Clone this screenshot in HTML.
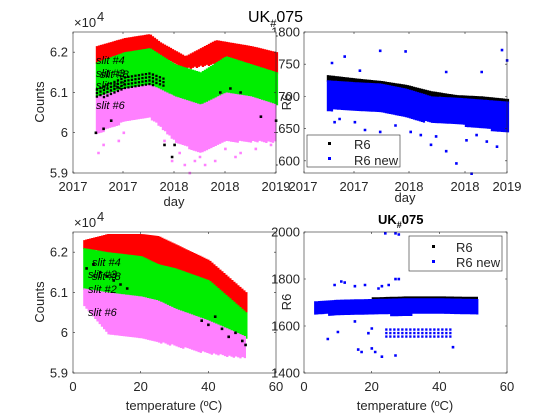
<!DOCTYPE html>
<html><head><meta charset="utf-8"><style>
body{margin:0;background:#fff;}
svg{display:block;font-family:"Liberation Sans",sans-serif;}
.tk{font-size:13px;fill:#262626;}
</style></head><body>
<svg id="s" width="560" height="420" viewBox="0 0 560 420">
<rect width="560" height="420" fill="#fff"/>
</svg>
<script>
// ---------- DATA ----------
const tlRedT=[0.45,1,1.5,1.7,2.2,2.8,3.5,4];
const tlRedHi=[6.215,6.235,6.245,6.225,6.19,6.23,6.215,6.2];
const tlGreenT=[0.45,1,1.5,2,2.5,3,3.5,4];
const tlGreenHi=[6.175,6.2,6.21,6.17,6.15,6.19,6.17,6.15];
const tlGreenLo=[6.09,6.11,6.12,6.09,6.07,6.1,6.09,6.07];
const tlPinkLo=[6.0,6.03,6.04,5.98,5.95,5.98,5.98,5.98];
const tlBlackT=[0.45,1,1.5,1.8];
const tlBlackLo=[6.085,6.11,6.12,6.115];
const tlBlackHi=[6.11,6.14,6.15,6.135];
const tlPinkOutT=[0.5,0.6,0.9,1.0,1.8,1.95,2.2,2.3,2.5,2.8,3.3,3.6,3.9,2.1,2.4,2.6,3.0,3.2];
const tlPinkOutV=[5.95,5.97,5.98,6.0,5.98,5.93,5.92,5.9,5.94,5.93,5.95,5.96,5.97,5.95,5.93,5.92,5.96,5.94];
const tlBlackOutT=[0.45,0.6,0.75,1.8,1.95,2.0,3.7,4.0,2.9,3.1,3.3];
const tlBlackOutV=[6.0,6.01,6.03,5.97,5.94,5.97,6.04,6.03,6.1,6.11,6.1];
const trT=[0.45,1,1.5,2,2.5,3,3.5,4];
const trBlueLo=[1680,1680,1678,1668,1660,1658,1652,1645];
const trBlueHi=[1725,1722,1720,1712,1700,1698,1695,1692];
const trBlackHi=[1733,1728,1724,1718,1708,1702,1700,1696];
const trOutT=[0.55,0.8,1.1,1.5,2.0,2.8,3.5,3.9,4.0,1.5,2.5,2.8,3.0,3.3,3.8,2.1,0.6,1.2,3.6,0.7,1.0,1.8,2.3,2.6,3.2,3.4];
const trOutV=[1752,1762,1740,1771,1770,1738,1738,1772,1756,1645,1625,1615,1596,1580,1622,1645,1660,1648,1630,1665,1660,1655,1640,1638,1632,1640];
const blT=[3,10,20,25,30,40,51];
const blRedHi=[6.23,6.245,6.245,6.24,6.22,6.18,6.1];
const blGreenHi=[6.21,6.2,6.19,6.17,6.16,6.13,6.05];
const blGreenLo=[6.11,6.1,6.09,6.08,6.06,6.03,5.99];
const blPinkLo=[6.07,6.0,5.99,5.98,5.97,5.95,5.94];
const blBlackT=[4,6,8,10,12,14,16,38,40,42,44,46,48,50,51];
const blBlackV=[6.16,6.17,6.15,6.14,6.13,6.12,6.11,6.03,6.02,6.04,6.01,5.99,6.0,5.98,5.97];
const brT=[3,10,20,30,40,51];
const brBlueLo=[1655,1650,1650,1652,1655,1650];
const brBlueHi=[1705,1712,1715,1718,1718,1715];
const brClusterT=[24,43];
const brClusterLo=[1560,1560];
const brClusterHi=[1590,1590];
const brOutT=[24,27,28,9,11,12,15,18,22,23,25,27,28,7,10,16,17,20,21,23,27,44,15,20,19];
const brOutV=[1995,1995,1990,1775,1790,1785,1770,1775,1760,1770,1775,1800,1800,1545,1575,1500,1490,1505,1490,1470,1475,1510,1620,1590,1570];

// ---------- HELPERS ----------
const S=document.getElementById('s'),NS='http://www.w3.org/2000/svg';
function mk(tag,at,txt){const e=document.createElementNS(NS,tag);for(const k in at)e.setAttribute(k,at[k]);if(txt!=null)e.textContent=txt;S.appendChild(e);return e;}
function interp(xs,ys,x){if(x<=xs[0])return ys[0];for(let i=1;i<xs.length;i++){if(x<=xs[i]){const f=(x-xs[i-1])/(xs[i]-xs[i-1]);return ys[i-1]+f*(ys[i]-ys[i-1]);}}return ys[ys.length-1];}
function scale(d0,d1,p0,p1){return v=>p0+(v-d0)/(d1-d0)*(p1-p0);}
function band(X,Y,ts,lo,hi,col,name,step,vstep){
  step=step||2;vstep=vstep||2.2;let d='';
  const p0=X(ts[0]),p1=X(ts[ts.length-1]);
  for(let px=p0;px<=p1;px+=step){const t=X.inv(px);const a=Y(interp(ts,hi,t)),b=Y(interp(ts,lo,t));
    for(let py=a;py<=b;py+=vstep){d+='M'+px.toFixed(1)+' '+py.toFixed(1)+'h2.3v2.3h-2.3z';}}
  const e=mk('path',{d:d,fill:col});
  
  
}
function pts(X,Y,ts,vs,col,name){let d='';for(let i=0;i<ts.length;i++){d+='M'+(X(ts[i])-1.2).toFixed(1)+' '+(Y(vs[i])-1.2).toFixed(1)+'h2.6v2.6h-2.6z';}
  const e=mk('path',{d:d,fill:col});
  
  
}
function axes(x0,y0,x1,y1,name){
  const r=mk('rect',{x:x0,y:y0,width:x1-x0,height:y1-y0,fill:'#fff'});
  
  
}
function frame(x0,y0,x1,y1,xt,yt,name){
  let d='';xt.forEach(p=>{d+='M'+p+' '+y1+'v-2M'+p+' '+y0+'v2';});yt.forEach(p=>{d+='M'+x0+' '+p+'h2M'+x1+' '+p+'h-2';});
  const t=mk('path',{d:d,stroke:'#262626','stroke-width':0.6,fill:'none'});
  
  
  const b=mk('rect',{x:x0,y:y0,width:x1-x0,height:y1-y0,fill:'none',stroke:'#262626','stroke-width':0.6});
  
  
}
function txt(x,y,s,at,name){const e=mk('text',Object.assign({x:x,y:y},at),s);
  
  return e;}
function mkX(d0,d1,p0,p1){const f=scale(d0,d1,p0,p1);f.inv=scale(p0,p1,d0,d1);return f;}

// ---------- TOP-RIGHT ----------
{const X=mkX(0,4,304,507),Y=scale(1581,1800,173,32);
 axes(304,32,507,173,'day-r6');
 band(X,Y,trT,trBlueHi,trBlackHi,'#000','r6-series');
 band(X,Y,trT,trBlueLo,trBlueHi,'#0000ff','r6-new-series');
 pts(X,Y,trOutT,trOutV,'#0000ff','r6-new-outliers');
 const yv=[1600,1650,1700,1750,1800];
 frame(304,32,507,173,[304,354,409,465,507],yv.map(Y),'day-r6');
 yv.forEach(v=>txt(300,Y(v)+4.5,v,{class:'tk','text-anchor':'end'},'y-tick-'+v));
 [['2017',303],['2017',354],['2018',409],['2018',465],['2019',507]].forEach((a,i)=>txt(a[1],191,a[0],{class:'tk','text-anchor':'middle'},'x-tick-r-'+i));
 txt(405,202,'day',{class:'tk','text-anchor':'middle','font-size':'13px'},'x-axis-title-day-r');
 txt(291,102,'R6',{class:'tk','text-anchor':'middle',transform:'rotate(-90 291 102)','font-size':'14px'},'y-axis-title-r6-top');
 const lg=mk('rect',{x:307,y:135,width:93,height:32,fill:'#fff',stroke:'#262626','stroke-width':0.6});
 
 const c1=mk('rect',{x:328,y:142,width:3,height:3,fill:'#000'});
 const c2=mk('rect',{x:328,y:157,width:3,height:3,fill:'#0000ff'});
 txt(354,149,'R6',{class:'tk'},'legend-entry-r6');
 txt(354,165,'R6 new',{class:'tk'},'legend-entry-r6-new');
}
// ---------- TOP-LEFT ----------
{const X=mkX(0,4,73,276),Y=scale(5.9,6.25,173,32);
 axes(73,32,276,173,'day-counts');
 band(X,Y,tlRedT,tlRedT.map((t)=>interp(tlGreenT,tlGreenHi,t)),tlRedHi,'#ff0000','slit-4-series');
 band(X,Y,tlGreenT,tlGreenLo,tlGreenHi,'#00ee00','slit-3-series');
 band(X,Y,tlGreenT,tlPinkLo,tlGreenLo,'#ff80ff','slit-6-series',2.2);
 band(X,Y,tlBlackT,tlBlackLo,tlBlackHi,'#000','slit-8-series',3.5,3.5);
 pts(X,Y,tlPinkOutT,tlPinkOutV,'#ff80ff','slit-6-outliers');
 pts(X,Y,tlBlackOutT,tlBlackOutV,'#000','slit-8-outliers');
 const yv=[5.9,6,6.1,6.2];
 frame(73,32,276,173,[73,123,174,225,276],yv.map(Y),'day-counts');
 yv.forEach(v=>txt(68,Y(v)+4.5,v,{class:'tk','text-anchor':'end'},'y-tick-'+v));
 [['2017',73],['2017',123],['2018',174],['2018',225],['2019',276]].forEach((a,i)=>txt(a[1],191,a[0],{class:'tk','text-anchor':'middle'},'x-tick-l-'+i));
 txt(174,206,'day',{class:'tk','text-anchor':'middle'},'x-axis-title-day');
 txt(44,102,'Counts',{class:'tk',transform:'rotate(-90 44 102)','text-anchor':'middle','font-size':'14px'},'y-axis-title-counts');
 txt(74,27,'×10',{class:'tk','font-size':'12px'},'exponent-label');
 txt(97,21,'4',{class:'tk','font-size':'9px'},'exponent-power');
 [['slit #4',96,64],['slit #3',96,77],['slit #8',100,78],['slit #2',96,89],['slit #6',96,109]].forEach((a,i)=>txt(a[1],a[2],a[0],{'font-size':'11px','font-style':'italic',fill:'#000'},'slit-label-'+i));
}
// ---------- BOTTOM-LEFT ----------
{const X=mkX(0,60,73,276),Y=scale(5.9,6.25,373,232);
 axes(73,232,276,373,'temp-counts');
 band(X,Y,blT,blGreenHi,blRedHi,'#ff0000','slit-4-temp-series');
 band(X,Y,blT,blGreenLo,blGreenHi,'#00ee00','slit-3-temp-series');
 band(X,Y,blT,blPinkLo,blGreenLo,'#ff80ff','slit-6-temp-series',2.2);
 pts(X,Y,blBlackT,blBlackV,'#000','slit-8-temp-points');
 const yv=[5.9,6,6.1,6.2];
 frame(73,232,276,373,[0,20,40,60].map(X),yv.map(Y),'temp-counts');
 yv.forEach(v=>txt(68,Y(v)+4.5,v,{class:'tk','text-anchor':'end'},'y-tick-b-'+v));
 [0,20,40,60].forEach(v=>txt(X(v),391,v,{class:'tk','text-anchor':'middle'},'x-tick-b-'+v));
 txt(174,410,'temperature (ºC)',{class:'tk','text-anchor':'middle','font-size':'14px'},'x-axis-title-temperature');
 txt(44,302,'Counts',{class:'tk',transform:'rotate(-90 44 302)','text-anchor':'middle','font-size':'14px'},'y-axis-title-counts-b');
 txt(74,227,'×10',{class:'tk','font-size':'12px'},'exponent-label-b');
 txt(97,221,'4',{class:'tk','font-size':'9px'},'exponent-power-b');
 [['slit #4',92,266],['slit #3',88,278],['slit #8',92,280],['slit #2',88,293],['slit #6',88,316]].forEach((a,i)=>txt(a[1],a[2],a[0],{'font-size':'11px','font-style':'italic',fill:'#000'},'slit-label-b-'+i));
}
// ---------- BOTTOM-RIGHT ----------
{const X=mkX(0,60,304,507),Y=scale(1400,2000,373,232);
 axes(304,232,507,373,'temp-r6');
 band(X,Y,[20,30,40,51],[1715,1718,1718,1715],[1722,1726,1726,1724],'#000','r6-temp-series');
 band(X,Y,brT,brBlueLo,brBlueHi,'#0000ff','r6-new-temp-series');
 band(X,Y,brClusterT,brClusterLo,brClusterHi,'#0000ff','r6-new-low-cluster',4,3.5);
 pts(X,Y,brOutT,brOutV,'#0000ff','r6-new-temp-outliers');
 const yv=[1400,1600,1800,2000];
 frame(304,232,507,373,[0,20,40,60].map(X),yv.map(Y),'temp-r6');
 yv.forEach(v=>txt(300,Y(v)+4.5,v,{class:'tk','text-anchor':'end'},'y-tick-br-'+v));
 [0,20,40,60].forEach(v=>txt(X(v),391,v,{class:'tk','text-anchor':'middle'},'x-tick-br-'+v));
 txt(405,410,'temperature (ºC)',{class:'tk','text-anchor':'middle','font-size':'14px'},'x-axis-title-temperature-r');
 txt(291,302,'R6',{class:'tk',transform:'rotate(-90 291 302)','text-anchor':'middle','font-size':'14px'},'y-axis-title-r6-bottom');
 const lg=mk('rect',{x:409,y:236,width:93,height:35,fill:'#fff',stroke:'#262626','stroke-width':0.6});
 
 const c1=mk('rect',{x:432,y:245,width:3,height:3,fill:'#000'});
 const c2=mk('rect',{x:432,y:260,width:3,height:3,fill:'#0000ff'});
 txt(456,252,'R6',{class:'tk'},'legend-entry-r6-b');
 txt(456,267,'R6 new',{class:'tk'},'legend-entry-r6-new-b');
 const t=txt(378,224,'',{'font-size':'13px','font-weight':'bold',fill:'#000'},'bottom-right-title');
 t.innerHTML='UK<tspan dy="4" font-size="9">#</tspan><tspan dy="-4">075</tspan>';
}
{const t=txt(248,22,'',{'font-size':'16px',fill:'#000'},'figure-title');
 t.innerHTML='UK<tspan dy="5" font-size="11">#</tspan><tspan dy="-5">075</tspan>';}
</script>
</body></html>
